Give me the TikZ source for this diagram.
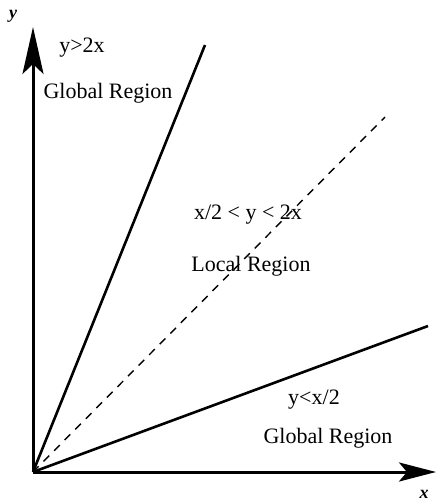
\documentclass[tikz,border=0pt]{standalone}
\usepackage{fontspec}
\setmainfont{Liberation Serif}
\usetikzlibrary{arrows.meta}
\begin{document}
\begin{tikzpicture}[x=1pt,y=-1pt,
  axis/.style={line width=3pt},
  bound/.style={line width=2.6pt},
  mid/.style={line width=1.4pt,dash pattern=on 8pt off 7pt},
  region/.style={inner sep=0pt,font=\fontsize{22}{26}\selectfont},
  axlabel/.style={inner sep=0pt,font=\fontsize{18}{21}\selectfont\bfseries\itshape}]
\useasboundingbox (0,0) rectangle (437,502);
\coordinate (O) at (33,472);
\coordinate (ytip) at (33,27);
\coordinate (xtip) at (436,472);
\coordinate (a) at (205,45);
\coordinate (b) at (385,117);
\coordinate (c) at (428,326);
\draw[axis,-{Stealth[length=47pt,width=21pt,inset=10pt]}] (O) -- (ytip);
\draw[axis,-{Stealth[length=37pt,width=19pt,inset=8pt]}] (O) -- (xtip);
\draw[bound] (O) -- (a);
\draw[mid] (O) -- (b);
\draw[bound] (O) -- (c);
\node[axlabel] (ylab) at (13,16) {y};
\node[axlabel] (xlab) at (424,494) {x};
\node[region] (t1) at (82,48) {y>2x};
\node[region] (t2) at (108,93) {Global Region};
\node[region] (t3) at (248,215) {x/2 < y < 2x};
\node[region] (t4) at (251,266) {Local Region};
\node[region] (t5) at (314,400) {y<x/2};
\node[region] (t6) at (328,438) {Global Region};
\end{tikzpicture}
\end{document}
